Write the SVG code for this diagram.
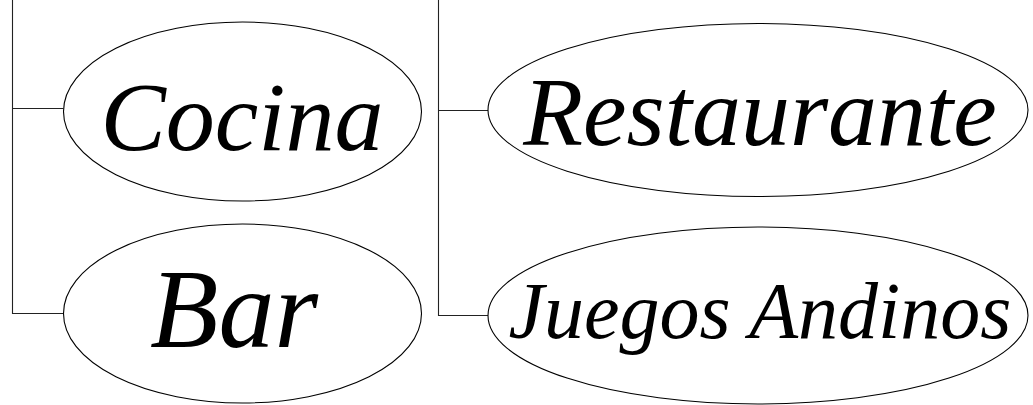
<svg xmlns="http://www.w3.org/2000/svg" width="1033" height="405" viewBox="0 0 1033 405">
<style>
.n ellipse{fill:#fff;stroke:#000;stroke-width:1.1}
.n text{font-family:"Liberation Serif",serif;font-style:italic;font-size:98px;fill:#000;text-anchor:middle}
.c{fill:none;stroke:#222;stroke-width:1.1}
</style>
<rect width="1033" height="405" fill="#fff"/>
<g id="connectors" class="c">
<path d="M12.5 0V313.5H63.5M12.5 108.5H63.5"/>
<path d="M438.5 0V315.5H488.5M438.5 110.5H488.5"/>
</g>
<g id="cocina" class="n">
<ellipse cx="242.5" cy="111.5" rx="179" ry="89.5"/>
<text x="242" y="150">Cocina</text>
</g>
<g id="bar" class="n">
<ellipse cx="242.5" cy="313.5" rx="179" ry="89.5"/>
<text x="234" y="347" style="font-size:112px">Bar</text>
</g>
<g id="restaurante" class="n">
<ellipse cx="758" cy="110" rx="270" ry="86.5"/>
<text x="760" y="145">Restaurante</text>
</g>
<g id="juegos" class="n">
<ellipse cx="758" cy="315.5" rx="270" ry="88.5"/>
<text x="760" y="338" style="font-size:80px">Juegos Andinos</text>
</g>
</svg>
